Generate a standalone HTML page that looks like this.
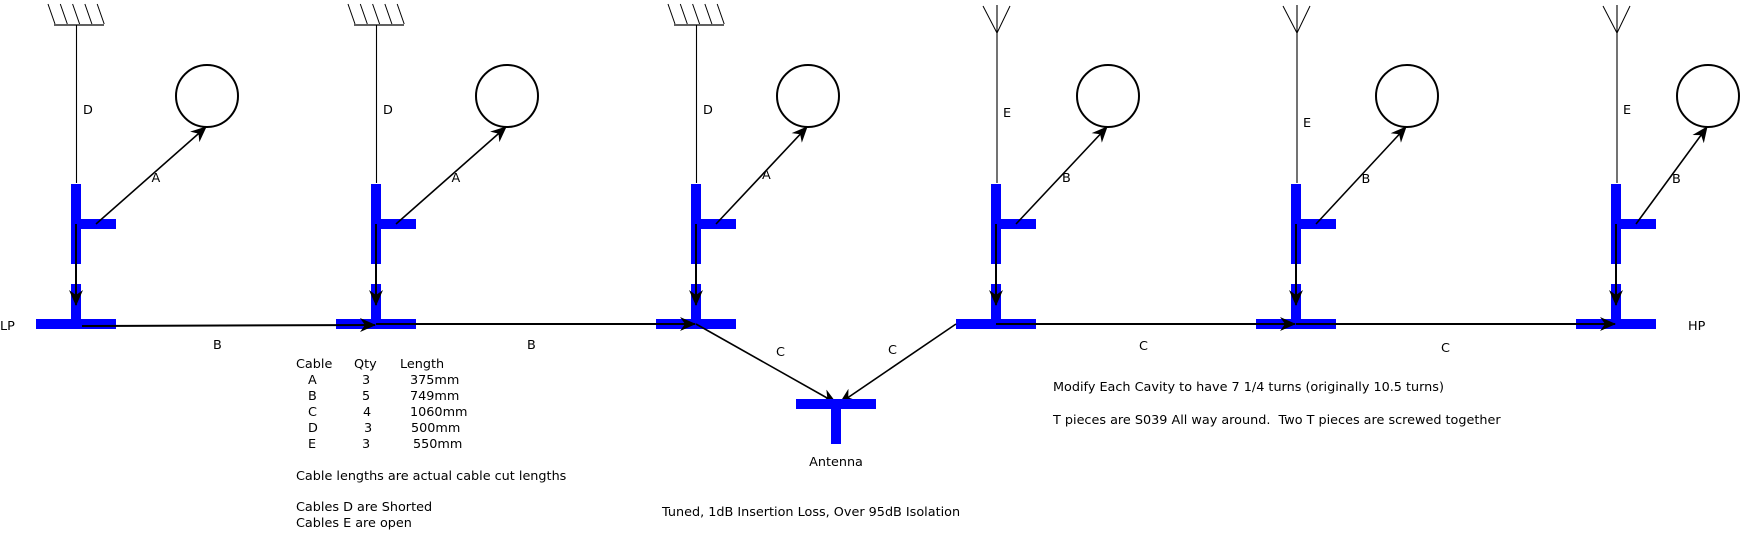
<!DOCTYPE html>
<html><head><meta charset="utf-8"><style>
html,body{margin:0;padding:0;background:#fff;}
svg{display:block;}
text{font-family:"DejaVu Sans","Liberation Sans",sans-serif;font-size:12.8px;fill:#000;}
</style></head><body>
<svg width="1740" height="534" viewBox="0 0 1740 534" xmlns="http://www.w3.org/2000/svg">
<defs>
<marker id="ar" markerWidth="16" markerHeight="14" refX="15" refY="7" orient="auto" markerUnits="userSpaceOnUse">
<path d="M0,0 L16,7 L0,14 L5,7 Z" fill="#000"/>
</marker>
</defs>
<g id="units"></g>
<path d="M82,326 L375,325" stroke="#000" stroke-width="2" marker-end="url(#ar)" fill="none"/>
<path d="M376,324 L695,324" stroke="#000" stroke-width="2" marker-end="url(#ar)" fill="none"/>
<path d="M696,324 L836,403" stroke="#000" stroke-width="1.6" marker-end="url(#ar)" fill="none"/>
<path d="M956,324 L840,403" stroke="#000" stroke-width="1.6" marker-end="url(#ar)" fill="none"/>
<path d="M996,324 L1295,324" stroke="#000" stroke-width="2" marker-end="url(#ar)" fill="none"/>
<path d="M1296,324 L1615,324" stroke="#000" stroke-width="2" marker-end="url(#ar)" fill="none"/>
<rect x="796" y="399" width="80" height="10" fill="#0000ff"/>
<rect x="831" y="409" width="10" height="35" fill="#0000ff"/>
<text x="836" y="466" text-anchor="middle">Antenna</text>
<text x="0" y="330">LP</text>
<text x="1688" y="330">HP</text>
<text x="213" y="349">B</text>
<text x="527" y="349">B</text>
<text x="776" y="356">C</text>
<text x="888" y="354">C</text>
<text x="1139" y="350">C</text>
<text x="1441" y="352">C</text>
<text x="296" y="368">Cable</text><text x="354" y="368">Qty</text><text x="400" y="368">Length</text>
<text x="308" y="384">A</text><text x="362" y="384">3</text><text x="410" y="384">375mm</text>
<text x="308" y="400">B</text><text x="362" y="400">5</text><text x="410" y="400">749mm</text>
<text x="308" y="416">C</text><text x="363" y="416">4</text><text x="410" y="416">1060mm</text>
<text x="308" y="432">D</text><text x="364" y="432">3</text><text x="411" y="432">500mm</text>
<text x="308" y="448">E</text><text x="362" y="448">3</text><text x="413" y="448">550mm</text>
<text x="296" y="480">Cable lengths are actual cable cut lengths</text>
<text x="296" y="511">Cables D are Shorted</text>
<text x="296" y="527">Cables E are open</text>
<text x="662" y="516">Tuned, 1dB Insertion Loss, Over 95dB Isolation</text>
<text x="1053" y="391">Modify Each Cavity to have 7 1/4 turns (originally 10.5 turns)</text>
<text x="1053" y="424" xml:space="preserve">T pieces are S039 All way around.  Two T pieces are screwed together</text>
</svg>
<script>
(function(){
var ns="http://www.w3.org/2000/svg",g=document.getElementById("units");
var U=[[76,207,"D","A",114,182,0],[376,507,"D","A",114,182,0],[696,808,"D","A",114,179,0],
[996,1108,"E","B",117,182,1],[1296,1407,"E","B",127,183,1],[1616,1708,"E","B",114,183,1]];
function el(t,a){var e=document.createElementNS(ns,t);for(var k in a)e.setAttribute(k,a[k]);g.appendChild(e);return e;}
U.forEach(function(u){
var x=u[0],c=u[1];
if(!u[6]){
 el("line",{x1:x-22,y1:25,x2:x+28,y2:25,stroke:"#000","stroke-width":1.3});
 for(var k=0;k<5;k++){var hx=x-28+k*12.3;el("line",{x1:hx,y1:4,x2:hx+7,y2:24,stroke:"#000","stroke-width":1});}
 el("line",{x1:x+0.5,y1:25,x2:x+0.5,y2:183,stroke:"#000","stroke-width":1.1});
}else{
 el("line",{x1:x+1,y1:5,x2:x+1,y2:183,stroke:"#000","stroke-width":1.1});
 el("line",{x1:x-13,y1:6,x2:x+1,y2:33,stroke:"#000","stroke-width":1});
 el("line",{x1:x+14,y1:6,x2:x+1,y2:33,stroke:"#000","stroke-width":1});
}
el("rect",{x:x-5,y:184,width:10,height:80,fill:"#0000ff"});
el("rect",{x:x+5,y:219,width:35,height:10,fill:"#0000ff"});
el("rect",{x:x-5,y:284,width:10,height:40,fill:"#0000ff"});
el("rect",{x:x-40,y:319,width:80,height:10,fill:"#0000ff"});
el("circle",{cx:c,cy:96,r:31,fill:"none",stroke:"#000","stroke-width":2});
el("line",{x1:x+20,y1:224,x2:c-1,y2:127,stroke:"#000","stroke-width":1.6,"marker-end":"url(#ar)"});
el("line",{x1:x,y1:224,x2:x,y2:305,stroke:"#000","stroke-width":2,"marker-end":"url(#ar)"});
var t=el("text",{x:x+7,y:u[4]});t.textContent=u[2];
var t2=el("text",{x:(x+c)/2+10,y:u[5]});t2.textContent=u[3];
});
})();
</script>
</body></html>
